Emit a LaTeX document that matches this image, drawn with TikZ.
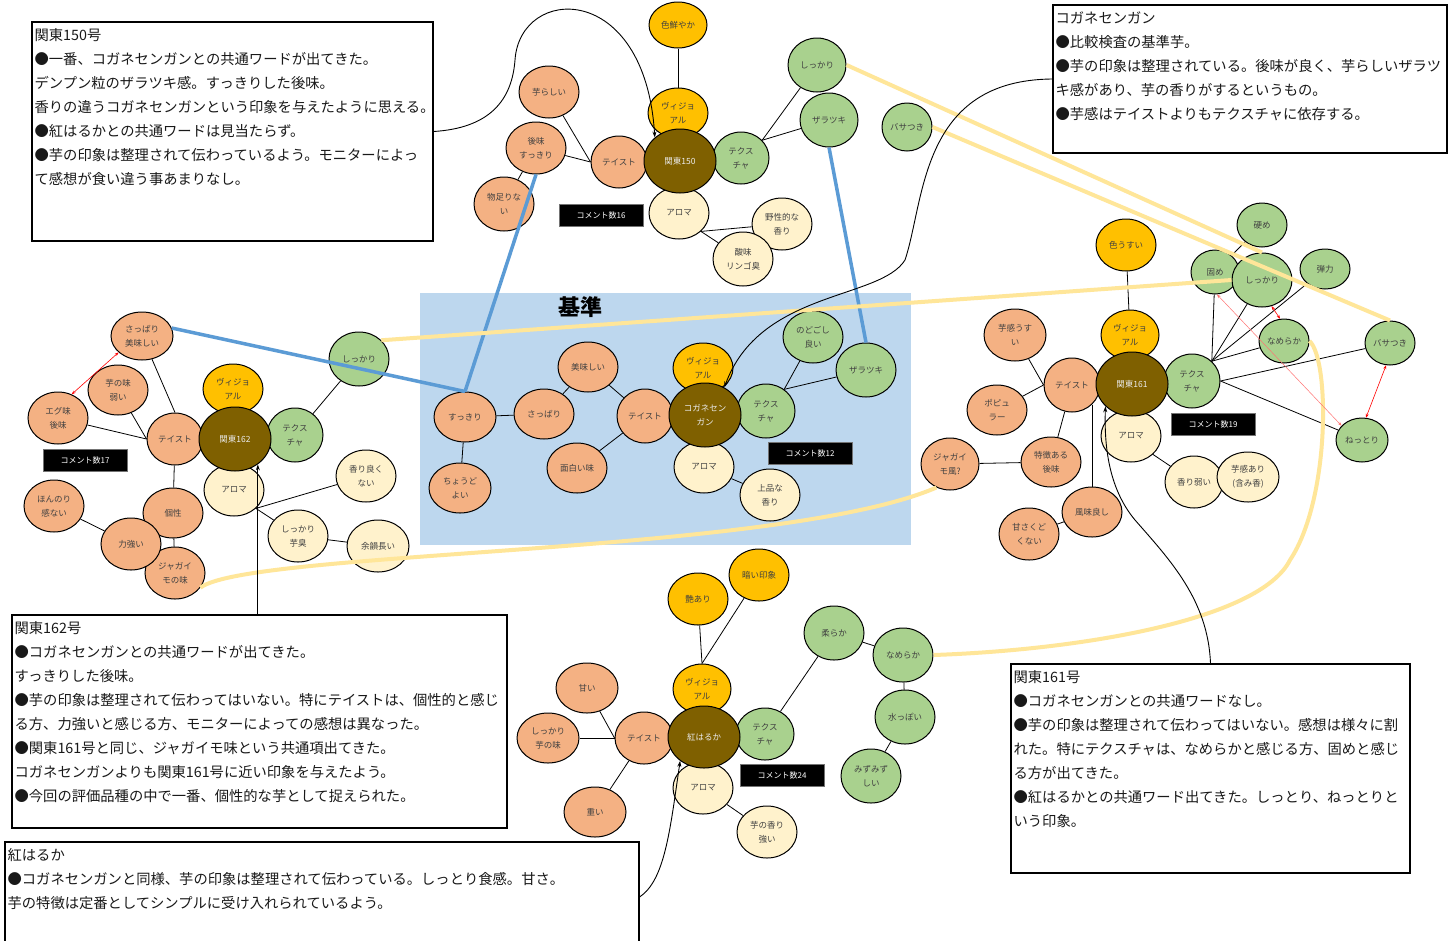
\documentclass[tikz,border=0pt]{standalone}
\usepackage{fontspec}
\setmainfont{Noto Sans CJK JP}
\usetikzlibrary{shapes.geometric,arrows.meta,calc}
\pgfdeclarelayer{bgzero}
\pgfdeclarelayer{edges}
\pgfdeclarelayer{top}
\pgfsetlayers{bgzero,edges,main,top}
\definecolor{cTaste}{HTML}{F4B183}
\definecolor{cVis}{HTML}{FFC000}
\definecolor{cTex}{HTML}{A9D18E}
\definecolor{cAro}{HTML}{FFF2CC}
\definecolor{cHub}{HTML}{7F6000}
\definecolor{cBlueBg}{HTML}{BDD7EE}
\definecolor{cBlueLn}{HTML}{5B9BD5}
\definecolor{cYel}{HTML}{FFE699}
\tikzset{
  sz/.style 2 args={minimum width=#1pt, minimum height=#2pt},
  bub/.style={ellipse, draw=black, line width=1pt, inner sep=0pt, align=center,
    text=black!75, font=\fontsize{8.5}{14}\selectfont},
  ta/.style={bub, fill=cTaste},
  vi/.style={bub, fill=cVis},
  tx/.style={bub, fill=cTex},
  ar/.style={bub, fill=cAro},
  hub/.style={bub, fill=cHub, text=white!92!black, sz={72}{64}},
  cnt/.style={draw=black!55, fill=black, text=white, line width=1pt,
    minimum width=84pt, minimum height=22pt, inner sep=0pt, font=\fontsize{8}{10}\selectfont},
  tbox/.style={draw=black, fill=white, line width=1.2pt, inner sep=0pt},
  ttext/.style={anchor=north west, align=left, inner sep=0pt,
    font=\fontsize{14.3}{24}\selectfont, text=black!90},
  edge/.style={draw=black, line width=0.8pt},
  bline/.style={draw=cBlueLn, line width=3.5pt},
  yline/.style={draw=cYel, line width=4pt},
  conn/.style={draw=black, line width=0.9pt, -{Stealth[length=6pt,width=4pt]}},
  rarr/.style={draw=red, line width=0.6pt, {Stealth[length=4pt,width=3pt]}-{Stealth[length=4pt,width=3pt]}},
  rarrl/.style={draw=red!55, line width=0.5pt, {Stealth[length=4pt,width=3pt]}-{Stealth[length=4pt,width=3pt]}}
}
\begin{document}
\begin{tikzpicture}[x=1pt,y=-1pt]
\useasboundingbox (0,0) rectangle (1455,940);

% background and blue region
\begin{pgfonlayer}{bgzero}
\fill[white] (0,0) rectangle (1455,940);
\node[fill=cBlueBg, minimum width=491pt, minimum height=252pt, inner sep=0pt] (bluebg) at (665.5,419) {};
\end{pgfonlayer}
\node[font=\fontsize{22}{22}\selectfont\bfseries] (kijun) at (580,307) {基準};

% ---------- top cluster (関東150) ----------
\node[vi, sz={58}{46}] (t_iro) at (678,25) {色鮮やか};
\node[vi, sz={60}{50}] (t_vis) at (678,113) {ヴィジョ\\アル};
\node[ta, sz={56}{52}] (t_ta) at (619,162) {テイスト};
\node[tx, sz={56}{52}] (t_tx) at (741,158) {テクス\\チャ};
\node[ar, sz={60}{52}] (t_ar) at (679,213) {アロマ};
\node[hub] (t_hub) at (680,161) {関東150};
\node[ar, sz={60}{52}] (t_yasei) at (782,224) {野性的な\\香り};
\node[ar, sz={60}{54}] (t_sanmi) at (743,259) {酸味\\リンゴ臭};
\node[tx, sz={58}{54}] (t_shikkari) at (817,65) {しっかり};
\node[tx, sz={58}{54}] (t_zara) at (829,120) {ザラツキ};
\node[tx, sz={50}{48}] (t_basa) at (907,127) {バサつき};
\node[ta, sz={60}{52}] (t_imo) at (549,92) {芋らしい};
\node[ta, sz={60}{52}] (t_ato) at (536,148) {後味\\すっきり};
\node[ta, sz={60}{54}] (t_mono) at (504,204) {物足りな\\い};
\node[cnt] (t_cnt) at (601,215) {コメント数16};

% ---------- left cluster (関東162) ----------
\node[ta, sz={62}{48}] (l_sappari) at (142,336) {さっぱり\\美味しい};
\node[ta, sz={60}{50}] (l_imoaji) at (118,390) {芋の味\\弱い};
\node[ta, sz={60}{52}] (l_egu) at (58,418) {エグ味\\後味};
\node[vi, sz={60}{50}] (l_vis) at (233,389) {ヴィジョ\\アル};
\node[ta, sz={56}{52}] (l_ta) at (175,439) {テイスト};
\node[tx, sz={56}{54}] (l_tx) at (295,435) {テクス\\チャ};
\node[ar, sz={60}{52}] (l_ar) at (234,490) {アロマ};
\node[hub] (l_hub) at (235,439) {関東162};
\node[tx, sz={60}{54}] (l_shikkari) at (359,359) {しっかり};
\node[ar, sz={60}{52}] (l_kaori) at (366,476) {香り良く\\ない};
\node[ta, sz={60}{50}] (l_kosei) at (173,513) {個性};
\node[ta, sz={60}{52}] (l_jaga) at (175,573) {ジャガイ\\モの味};
\node[ta, sz={60}{52}] (l_chikara) at (131,544) {力強い};
\node[ta, sz={60}{52}] (l_honnori) at (54,506) {ほんのり\\感ない};
\node[ar, sz={60}{52}] (l_imoshu) at (298,536) {しっかり\\芋臭};
\node[ar, sz={62}{52}] (l_yoin) at (378,546) {余韻長い};
\node[cnt] (l_cnt) at (85,460) {コメント数17};

% ---------- center cluster (コガネセンガン) ----------
\node[ta, sz={62}{50}] (c_sukkiri) at (465,417) {すっきり};
\node[ta, sz={62}{50}] (c_choudo) at (460,488) {ちょうど\\よい};
\node[ta, sz={60}{50}] (c_sappari) at (544,414) {さっぱり};
\node[ta, sz={60}{50}] (c_oishii) at (588,367) {美味しい};
\node[ta, sz={60}{50}] (c_omoshiro) at (577,468) {面白い味};
\node[ta, sz={56}{54}] (c_ta) at (645,416) {テイスト};
\node[vi, sz={60}{50}] (c_vis) at (703,368) {ヴィジョ\\アル};
\node[tx, sz={58}{54}] (c_tx) at (766,411) {テクス\\チャ};
\node[ar, sz={60}{52}] (c_ar) at (704,467) {アロマ};
\node[hub] (c_hub) at (705,415) {コガネセン\\ガン};
\node[ar, sz={60}{52}] (c_jouhin) at (770,495) {上品な\\香り};
\node[tx, sz={60}{52}] (c_nodo) at (813,337) {のどごし\\良い};
\node[tx, sz={60}{54}] (c_zara) at (866,370) {ザラツキ};
\node[cnt] (c_cnt) at (810,453) {コメント数12};

% ---------- right cluster (関東161) ----------
\node[vi, sz={60}{52}] (r_iro) at (1126,245) {色うすい};
\node[vi, sz={58}{50}] (r_vis) at (1130,335) {ヴィジョ\\アル};
\node[ta, sz={56}{54}] (r_ta) at (1072,385) {テイスト};
\node[tx, sz={56}{54}] (r_tx) at (1192,381) {テクス\\チャ};
\node[ar, sz={60}{52}] (r_ar) at (1131,436) {アロマ};
\node[hub] (r_hub) at (1132,384) {関東161};
\node[ar, sz={58}{52}] (r_kaori) at (1194,482) {香り弱い};
\node[ar, sz={62}{50}] (r_imokan) at (1248,477) {芋感あり\\(含み香)};
\node[ta, sz={62}{52}] (r_usui) at (1015,335) {芋感うす\\い};
\node[ta, sz={60}{50}] (r_popu) at (997,410) {ポピュ\\ラー};
\node[ta, sz={60}{50}] (r_tokuchou) at (1051,462) {特徴ある\\後味};
\node[ta, sz={58}{52}] (r_jaga) at (950,464) {ジャガイ\\モ風?};
\node[ta, sz={60}{50}] (r_fumi) at (1092,512) {風味良し};
\node[ta, sz={60}{52}] (r_amasa) at (1029,534) {甘さくど\\くない};
\node[tx, sz={50}{44}] (r_kata) at (1262,225) {硬め};
\node[tx, sz={48}{44}] (r_katame) at (1215,272) {固め};
\node[tx, sz={60}{54}] (r_shikkari) at (1262,280) {しっかり};
\node[tx, sz={50}{40}] (r_dan) at (1325,269) {弾力};
\node[tx, sz={50}{44}] (r_name) at (1284,341) {なめらか};
\node[tx, sz={50}{44}] (r_basa) at (1390,343) {バサつき};
\node[tx, sz={52}{44}] (r_netto) at (1362,440) {ねっとり};
\node[cnt] (r_cnt) at (1213,424) {コメント数19};

% ---------- bottom cluster (紅はるか) ----------
\node[vi, sz={60}{52}] (b_kurai) at (759,575) {暗い印象};
\node[vi, sz={60}{52}] (b_tsuya) at (698,599) {艶あり};
\node[vi, sz={58}{50}] (b_vis) at (702,689) {ヴィジョ\\アル};
\node[ta, sz={58}{52}] (b_ta) at (644,738) {テイスト};
\node[tx, sz={58}{52}] (b_tx) at (765,734) {テクス\\チャ};
\node[ar, sz={60}{52}] (b_ar) at (703,788) {アロマ};
\node[hub, sz={72}{62}] (b_hub) at (704,737) {紅はるか};
\node[ar, sz={60}{52}] (b_imokaori) at (767,832) {芋の香り\\強い};
\node[ta, sz={62}{50}] (b_amai) at (587,688) {甘い};
\node[ta, sz={62}{50}] (b_shikkari) at (548,738) {しっかり\\芋の味};
\node[ta, sz={62}{50}] (b_omoi) at (595,812) {重い};
\node[tx, sz={60}{54}] (b_yawa) at (834,633) {柔らか};
\node[tx, sz={60}{54}] (b_name) at (903,655) {なめらか};
\node[tx, sz={60}{54}] (b_mizup) at (905,717) {水っぽい};
\node[tx, sz={60}{54}] (b_mizumizu) at (871,776) {みずみず\\しい};
\node[cnt] (b_cnt) at (782,775) {コメント数24};

% ---------- text boxes ----------
\node[tbox, minimum width=401pt, minimum height=219pt] (box150) at (232.5,131.5) {};
\node[ttext] (txt150) at ($(box150.north west)+(3,7)$) {関東150号\\●一番、コガネセンガンとの共通ワードが出てきた。\\デンプン粒のザラツキ感。すっきりした後味。\\香りの違うコガネセンガンという印象を与えたように思える。\\●紅はるかとの共通ワードは見当たらず。\\●芋の印象は整理されて伝わっているよう。モニターによっ\\て感想が食い違う事あまりなし。};

\node[tbox, minimum width=394pt, minimum height=148pt] (boxkg) at (1250,79) {};
\node[ttext] (txtkg) at ($(boxkg.north west)+(3,7)$) {コガネセンガン\\●比較検査の基準芋。\\●芋の印象は整理されている。後味が良く、芋らしいザラツ\\キ感があり、芋の香りがするというもの。\\●芋感はテイストよりもテクスチャに依存する。};

\node[tbox, minimum width=495pt, minimum height=213pt] (box162) at (259.5,721.5) {};
\node[ttext] (txt162) at ($(box162.north west)+(3,7)$) {関東162号\\●コガネセンガンとの共通ワードが出てきた。\\すっきりした後味。\\●芋の印象は整理されて伝わってはいない。特にテイストは、個性的と感じ\\る方、力強いと感じる方、モニターによっての感想は異なった。\\●関東161号と同じ、ジャガイモ味という共通項出てきた。\\コガネセンガンよりも関東161号に近い印象を与えたよう。\\●今回の評価品種の中で一番、個性的な芋として捉えられた。};

\node[tbox, minimum width=399pt, minimum height=209pt] (box161) at (1210.5,768.5) {};
\node[ttext] (txt161) at ($(box161.north west)+(3,7)$) {関東161号\\●コガネセンガンとの共通ワードなし。\\●芋の印象は整理されて伝わってはいない。感想は様々に割\\れた。特にテクスチャは、なめらかと感じる方、固めと感じ\\る方が出てきた。\\●紅はるかとの共通ワード出てきた。しっとり、ねっとりと\\いう印象。};

\node[tbox, minimum width=634pt, minimum height=110pt] (boxbeni) at (322,897) {};
\node[ttext] (txtbeni) at ($(boxbeni.north west)+(3,7)$) {紅はるか\\●コガネセンガンと同様、芋の印象は整理されて伝わっている。しっとり食感。甘さ。\\芋の特徴は定番としてシンプルに受け入れられているよう。};

% ---------- thin edges ----------
\begin{pgfonlayer}{edges}
% top
\draw[edge] (t_iro) -- (t_vis);
\draw[edge] (t_imo) -- (t_ta.west);
\draw[edge] (t_ato) -- (t_ta.west);
\draw[edge] (t_mono) -- (t_ato);
\draw[edge] (t_tx.40) -- (t_shikkari);
\draw[edge] (t_tx.40) -- (t_zara);
\draw[edge] (t_ar.-40) -- (t_yasei);
\draw[edge] (t_ar.-40) -- (t_sanmi);
% left
\draw[edge] (l_sappari) -- (l_ta.north);
\draw[edge] (l_imoaji) -- (l_ta.west);
\draw[edge] (l_egu) -- (l_ta.west);
\draw[edge] (l_ta) -- (l_kosei);
\draw[edge] (l_kosei) -- (l_jaga);
\draw[edge] (l_honnori) -- (l_chikara);
\draw[edge] (l_tx) -- (l_shikkari);
\draw[edge] (l_ar.-40) -- (l_kaori);
\draw[edge] (l_ar.-40) -- (l_imoshu);
\draw[edge] (l_imoshu) -- (l_yoin);
% center
\draw[edge] (c_sukkiri) -- (c_sappari);
\draw[edge] (c_sukkiri) -- (c_choudo);
\draw[edge] (c_sappari) -- (c_oishii);
\draw[edge] (c_oishii) -- (c_ta);
\draw[edge] (c_ta) -- (c_omoshiro);
\draw[edge] (c_tx.50) -- (c_nodo);
\draw[edge] (c_tx.50) -- (c_zara);
\draw[edge] (c_ar) -- (c_jouhin);
% right
\draw[edge] (r_iro) -- (r_vis);
\draw[edge] (r_usui) -- (r_ta.west);
\draw[edge] (r_popu) -- (r_ta.west);
\draw[edge] (r_ta) -- (r_tokuchou);
\draw[edge] (r_jaga) -- (r_tokuchou);
\draw[edge] (r_fumi.north) -- (r_fumi.north |- r_ta.-45);
\draw[edge] (r_amasa) -- (r_fumi);
\draw[edge] (r_ar.-40) -- (r_kaori);
\draw[edge] (r_katame) -- (r_kata);
\draw[edge] (r_tx.45) -- (r_katame);
\draw[edge] (r_tx.45) -- (r_shikkari);
\draw[edge] (r_tx.45) -- (r_dan);
\draw[edge] (r_tx.45) -- (r_name);
\draw[edge] (r_tx.east) -- (r_basa);
\draw[edge] (r_tx.east) -- (r_netto);
% bottom
\draw[edge] (b_tsuya) -- (b_vis.north);
\draw[edge] (b_kurai) -- (b_vis.north);
\draw[edge] (b_amai) -- (b_ta.west);
\draw[edge] (b_shikkari) -- (b_ta.west);
\draw[edge] (b_ta) -- (b_omoi);
\draw[edge] (b_tx) -- (b_yawa);
\draw[edge] (b_yawa) -- (b_name);
\draw[edge] (b_name) -- (b_mizup);
\draw[edge] (b_mizup) -- (b_mizumizu);
\draw[edge] (b_ar) -- (b_imokaori);
\end{pgfonlayer}

% ---------- long connectors on top ----------
\begin{pgfonlayer}{top}
\draw[bline] (t_ato.south) -- (c_sukkiri.north);
\draw[bline] (l_sappari.15) -- (c_sukkiri.north);
\draw[bline] (t_zara.south) -- (c_zara.north);

\draw[yline] (t_shikkari.east) -- (r_shikkari.north);
\draw[yline] (t_basa.east) -- (r_basa.north);
\draw[yline] (l_shikkari.40) -- (r_shikkari.west);
\draw[yline] (l_jaga.-30) .. controls (250,550) and (780,555) .. (r_jaga.-120);
\draw[yline] (r_name.east) .. controls (1330,360) and (1330,500) .. (1290,560)
  .. controls (1260,620) and (1080,650) .. (b_name.east);

\draw[conn] (box150.east) .. controls (490,128) and (512,100) .. (515,60)
  .. controls (520,-15) and (645,-20) .. (t_hub.137);
\draw[conn] (boxkg.west) .. controls (920,80) and (925,200) .. (905,260)
  .. controls (880,300) and (760,290) .. (c_hub.55);
\draw[conn] (box162.north -| l_hub.-48) -- (l_hub.-48);
\draw[conn] (box161.north) .. controls (1208,600) and (1170,560) .. (1135,520)
  .. controls (1110,490) and (1104,450) .. (r_hub.-140);
\draw[conn] (boxbeni.east) .. controls (665,880) and (670,830) .. (b_hub.-135);

\draw[rarr] (l_sappari.-145) -- (l_egu.60);
\draw[rarrl] (r_katame.-85) -- (r_netto.145);
\draw[rarr] (r_shikkari.-70) -- (r_name.100);
\draw[rarr] (r_basa.-100) -- (r_netto.80);
\end{pgfonlayer}
\end{tikzpicture}
\end{document}
